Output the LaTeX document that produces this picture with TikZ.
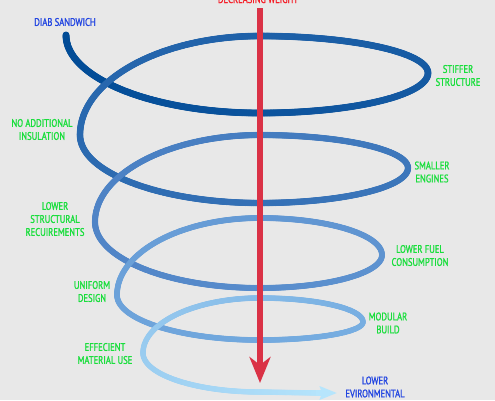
\documentclass[tikz,border=0pt]{standalone}
\usepackage{fontspec}
\setmainfont{PT Sans}[FakeStretch=0.78,FakeBold=1.3]
\usetikzlibrary{decorations.markings,arrows.meta}
\definecolor{bg}{RGB}{232,232,232}
\definecolor{spA}{RGB}{0,75,150}
\definecolor{spB}{RGB}{82,134,200}
\definecolor{spC}{RGB}{120,175,226}
\definecolor{spD}{RGB}{182,229,252}
\definecolor{lblgreen}{RGB}{25,222,60}
\definecolor{lblblue}{RGB}{35,70,225}
\definecolor{arrred}{RGB}{218,50,70}
\definecolor{txtred}{RGB}{245,30,40}
\tikzset{
  lbl/.style={font=\fontsize{11}{13}\selectfont, align=center, inner sep=0pt},
  greenlbl/.style={lbl, text=lblgreen},
  bluelbl/.style={lbl, text=lblblue},
  spiralmarks/.style={decoration={markings,
    mark=between positions 0 and 1 step 0.8pt with {%
      \pgfmathsetmacro\pp{\pgfkeysvalueof{/pgf/decoration/mark info/distance from start}/\pgfdecoratedpathlength}%
      \ifdim\pp pt<0.55pt
        \pgfmathsetmacro\qq{\pp/0.55*100}\colorlet{cur}{spB!\qq!spA}%
      \else\ifdim\pp pt<0.85pt
        \pgfmathsetmacro\qq{(\pp-0.55)/0.30*100}\colorlet{cur}{spC!\qq!spB}%
      \else
        \pgfmathsetmacro\qq{(\pp-0.85)/0.15*100}\colorlet{cur}{spD!\qq!spC}%
      \fi\fi
      \pgfmathsetmacro\rr{3.5-0.8*\pp}%
      \fill[cur] (0,0) circle[radius=\rr pt];}}, decorate}
}
\begin{document}
\begin{tikzpicture}[x=1pt,y=-1pt]
\fill[bg] (0,0) rectangle (495,400);
\useasboundingbox (0,0) rectangle (495,400);
% spiral
\path[spiralmarks]
 (66,35) .. controls (66,78.1) and (152.9,113) .. (260,113)
 .. controls (352.8,113) and (428,95.1) .. (428,73)
 .. controls (428,52.6) and (352.8,36) .. (260,36)
 .. controls (160.6,36) and (80,80.3) .. (80,135)
 .. controls (80,172.6) and (160.6,203) .. (260,203)
 .. controls (341.7,203) and (408,187.3) .. (408,168)
 .. controls (408,149.8) and (341.7,135) .. (260,135)
 .. controls (168.9,135) and (95,174) .. (95,222)
 .. controls (95,258.5) and (168.9,288) .. (260,288)
 .. controls (327.4,288) and (382,273.2) .. (382,255)
 .. controls (382,234.6) and (327.4,218) .. (260,218)
 .. controls (181,218) and (117,252.5) .. (117,295)
 .. controls (117,319.9) and (181,340) .. (260,340)
 .. controls (316.9,340) and (363,331.9) .. (363,322)
 .. controls (363,308.7) and (316.9,298) .. (260,298)
 .. controls (195.4,298) and (143,322.6) .. (143,353)
 .. controls (143,374.5) and (195.4,392) .. (260,392)
 -- (318,393);
\coordinate (envbase) at (316,393);
\coordinate (envtip) at (337,393);
\draw[spD, line width=5.4pt, -{Stealth[length=17pt,width=13pt,inset=2pt]}] (envbase) -- (envtip);
% red arrow
\coordinate (wtop) at (260,8);
\coordinate (wtip) at (260,383);
\draw[arrred, line width=5.5pt, -{Stealth[length=26pt,width=21pt,inset=8pt]}] (wtop) -- (wtip);
% labels
\node[lbl, text=txtred, anchor=base] (decw) at (258,3) {DECREASING WEIGHT};
\node[bluelbl] (diab) at (65,22) {DIAB SANDWICH};
\node[greenlbl] (stiff) at (458,75.5) {STIFFER\\STRUCTURE};
\node[greenlbl] (noadd) at (42,129.5) {NO ADDITIONAL\\INSULATION};
\node[greenlbl] (small) at (432,172) {SMALLER\\ENGINES};
\node[greenlbl] (lowstr) at (55,219) {LOWER\\STRUCTURAL\\RECUIREMENTS};
\node[greenlbl] (fuel) at (420,255.5) {LOWER FUEL\\CONSUMPTION};
\node[greenlbl] (unif) at (92,291.5) {UNIFORM\\DESIGN};
\node[greenlbl] (modu) at (388,323) {MODULAR\\BUILD};
\node[greenlbl] (effi) at (105,353.5) {EFFECIENT\\MATERIAL USE};
\node[bluelbl] (lowenv) at (375,387) {LOWER\\EVIRONMENTAL};
\end{tikzpicture}
\end{document}
